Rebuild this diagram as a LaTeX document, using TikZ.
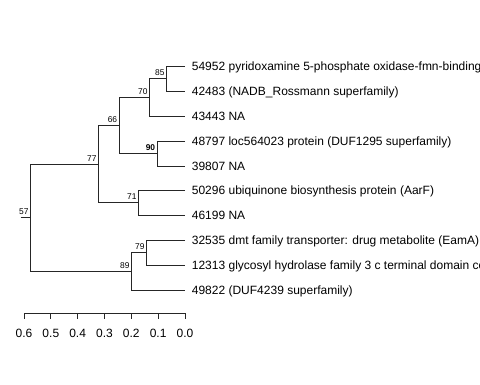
\documentclass[tikz,border=0pt]{standalone}
\usepackage{fontspec}
\setmainfont{Liberation Sans}
\begin{document}
\begin{tikzpicture}[x=1pt,y=-1pt,
  edge/.style={draw=black!85,line width=0.9pt},
  tiplabel/.style={anchor=base west,inner sep=0pt,font=\fontsize{12}{14}\selectfont},
  boot/.style={anchor=base east,inner sep=0pt,font=\fontsize{8.4}{10}\selectfont},
  ticklab/.style={anchor=base,inner sep=0pt,font=\fontsize{12}{14}\selectfont}]
\useasboundingbox (0,0) rectangle (480,384);
\clip (0,0) rectangle (480,384);
% tips
\coordinate (t1) at (185,66);
\coordinate (t2) at (185,91);
\coordinate (t3) at (185,116);
\coordinate (t4) at (185,141);
\coordinate (t5) at (185,166);
\coordinate (t6) at (185,190);
\coordinate (t7) at (185,215);
\coordinate (t8) at (185,240);
\coordinate (t9) at (185,265);
\coordinate (t10) at (185,290);
% internal nodes
\coordinate (n85) at (166.7,78.5);
\coordinate (n70) at (149.7,97.25);
\coordinate (n90) at (157.3,153.5);
\coordinate (n66) at (119.3,125.4);
\coordinate (n71) at (138.7,202.5);
\coordinate (n77) at (98.7,164);
\coordinate (n79) at (146.7,252.5);
\coordinate (n89) at (131.7,271.25);
\coordinate (n57) at (30.7,217.6);
\coordinate (r0) at (20.7,217.6);
% edges
\draw[edge] (t1) -| (n85) |- (t2);
\draw[edge] (n85) -| (n70) |- (t3);
\draw[edge] (t4) -| (n90) |- (t5);
\draw[edge] (n70) -| (n66) |- (n90);
\draw[edge] (t6) -| (n71) |- (t7);
\draw[edge] (n66) -| (n77) |- (n71);
\draw[edge] (t8) -| (n79) |- (t9);
\draw[edge] (n79) -| (n89) |- (t10);
\draw[edge] (n77) -| (n57) |- (n89);
\draw[edge] (r0) -- (n57);
% bootstrap labels
\node[boot] (b85) at ([xshift=-2pt,yshift=3pt]n85) {85};
\node[boot] (b70) at ([xshift=-2pt,yshift=3pt]n70) {70};
\node[boot] (b90) at ([xshift=-2pt,yshift=3pt]n90) {\bfseries 90};
\node[boot] (b66) at ([xshift=-2pt,yshift=3pt]n66) {66};
\node[boot] (b71) at ([xshift=-2pt,yshift=3pt]n71) {71};
\node[boot] (b77) at ([xshift=-2pt,yshift=3pt]n77) {77};
\node[boot] (b79) at ([xshift=-2pt,yshift=3pt]n79) {79};
\node[boot] (b89) at ([xshift=-2pt,yshift=3pt]n89) {89};
\node[boot] (b57) at ([xshift=-2pt,yshift=3pt]n57) {57};
% tip labels
\node[tiplabel] (l1) at ([xshift=6.7pt,yshift=-4.3pt]t1) {54952 pyridoxamine 5-phosphate oxidase-fmn-binding};
\node[tiplabel] (l2) at ([xshift=6.7pt,yshift=-4.3pt]t2) {42483 (NADB\_Rossmann superfamily)};
\node[tiplabel] (l3) at ([xshift=6.7pt,yshift=-4.3pt]t3) {43443 NA};
\node[tiplabel] (l4) at ([xshift=6.7pt,yshift=-4.3pt]t4) {48797 loc564023 protein (DUF1295 superfamily)};
\node[tiplabel] (l5) at ([xshift=6.7pt,yshift=-4.3pt]t5) {39807 NA};
\node[tiplabel] (l6) at ([xshift=6.7pt,yshift=-4.3pt]t6) {50296 ubiquinone biosynthesis protein (AarF)};
\node[tiplabel] (l7) at ([xshift=6.7pt,yshift=-4.3pt]t7) {46199 NA};
\node[tiplabel] (l8) at ([xshift=6.7pt,yshift=-4.3pt]t8) {32535 dmt family transporter: drug metabolite (EamA)};
\node[tiplabel] (l9) at ([xshift=6.7pt,yshift=-4.3pt]t9) {12313 glycosyl hydrolase family 3 c terminal domain co};
\node[tiplabel] (l10) at ([xshift=6.7pt,yshift=-4.3pt]t10) {49822 (DUF4239 superfamily)};
% axis
\coordinate (a0) at (24,313);
\coordinate (a1) at (185,313);
\draw[edge] (a0) -- (a1);
\foreach \i/\lab in {0/0.6,1/0.5,2/0.4,3/0.3,4/0.2,5/0.1,6/0.0}{
  \coordinate (tk\i) at (24+26.833*\i,313);
  \draw[edge] (tk\i) -- ++(0,6);
  \node[ticklab] (tl\i) at ([yshift=-24.5pt]tk\i) {\lab};
}
\end{tikzpicture}
\end{document}
